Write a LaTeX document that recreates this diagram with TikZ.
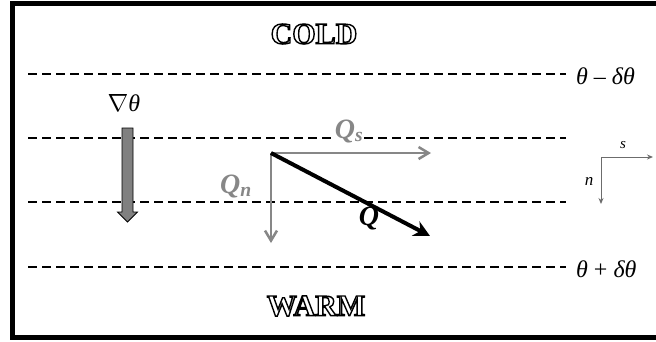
\documentclass[tikz,border=0pt]{standalone}
\usepackage{fontspec}
\setmainfont{Liberation Serif}
\usetikzlibrary{arrows.meta}
\definecolor{vgray}{gray}{0.53}
\newcommand{\outlinetext}[1]{\special{pdf:code q 1 Tr 1.4 w 0 G}#1\special{pdf:code Q}}
\tikzset{
  level/.style={dashed, dash pattern=on 9pt off 5pt, line width=1.3pt},
  lbl/.style={font=\fontsize{24}{26}\selectfont, inner sep=1pt},
  zone/.style={font=\bfseries\fontsize{30}{32}\selectfont, inner sep=0pt},
  comp/.style={vgray, line width=2.5pt, -{Straight Barb[length=10pt,width=12pt,line width=2.5pt]}},
  total/.style={black, line width=4pt, -{Stealth[length=16pt,width=16pt]}},
  axis/.style={vgray!80!black, line width=1pt, -{Stealth[length=6pt,width=5pt]}},
  qlbl/.style={font=\bfseries\itshape\fontsize{28}{30}\selectfont, inner sep=1pt},
}
\begin{document}
\begin{tikzpicture}[x=1pt,y=-1pt]
\useasboundingbox (0,0) rectangle (656,341);
% frame
\draw[line width=5pt] (12.5,3) rectangle (664,337.5);
% zone labels
\node[zone] (cold) at (314,34) {\outlinetext{COLD}};
\node[zone] (warm) at (316,306) {\outlinetext{WARM}};
% level lines
\coordinate (l1a) at (28,74);  \coordinate (l1b) at (566,74);
\coordinate (l2a) at (28,138); \coordinate (l2b) at (566,138);
\coordinate (l3a) at (28,202); \coordinate (l3b) at (566,202);
\coordinate (l4a) at (28,267); \coordinate (l4b) at (566,267);
\draw[level] (l1a) -- (l1b);
\draw[level] (l2a) -- (l2b);
\draw[level] (l3a) -- (l3b);
\draw[level] (l4a) -- (l4b);
\node[lbl, anchor=west] (tm) at (575,76) {\textit{θ} – \textit{δθ}};
\node[lbl, anchor=west] (tp) at (575,269) {\textit{θ} + \textit{δθ}};
% gradient arrow
\node[lbl] (grad) at (124,103) {$\nabla$\textit{θ}};
\filldraw[fill=gray!75!black!80, draw=black, line width=0.8pt]
  (122,128) -- (133,128) -- (133,212) -- (137.5,212) -- (127.5,222)
  -- (117.5,212) -- (122,212) -- cycle;
% vectors
\coordinate (o) at (271,153);
\coordinate (qs) at (431,153);
\coordinate (qn) at (271,243);
\coordinate (q) at (430,236);
\node[qlbl, vgray, fill=white] (qslbl) at (349,131) {\textit{Q}\textsubscript{\textit{s}}};
\node[qlbl, vgray] (qnlbl) at (236,186) {\textit{Q}\textsubscript{\textit{n}}};
\node[qlbl] (qlbl) at (369,218) {\textit{Q}};
\draw[comp] (o) -- (qs);
\draw[comp] (o) -- (qn);
\draw[total] (o) -- (q);
% s-n axes
\coordinate (ax) at (601,157);
\coordinate (axs) at (653,157);
\coordinate (axn) at (601,204);
\draw[axis] (ax) -- (axs);
\draw[axis] (ax) -- (axn);
\node[font=\itshape\fontsize{15}{16}\selectfont, inner sep=0pt] (sl) at (623,145) {s};
\node[font=\itshape\fontsize{17}{18}\selectfont, inner sep=0pt] (nl) at (589,181) {n};
\end{tikzpicture}
\end{document}
